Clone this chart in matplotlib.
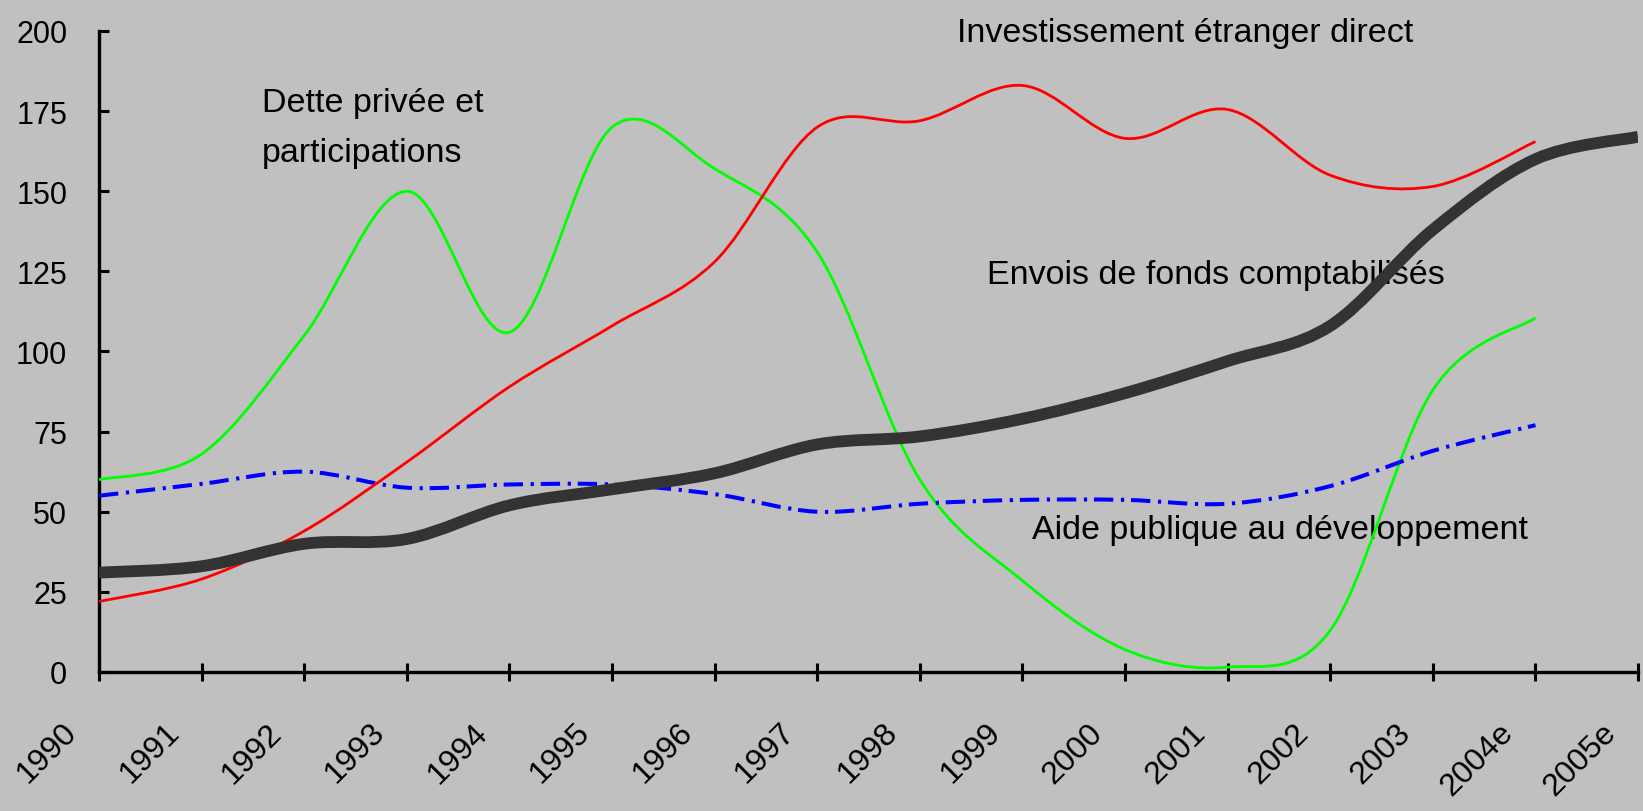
import numpy as np
import matplotlib
matplotlib.use("Agg")
import matplotlib.pyplot as plt
from matplotlib.path import Path
from matplotlib.patches import PathPatch
from matplotlib.transforms import ScaledTranslation

plt.rcParams['font.family'] = ['Liberation Sans', 'DejaVu Sans']

# Années (catégories)
annees = ['1990', '1991', '1992', '1993', '1994', '1995', '1996', '1997',
          '1998', '1999', '2000', '2001', '2002', '2003', '2004e', '2005e']

# Séries (milliards de dollars)
ide = [22, 29, 44, 65.5, 89, 108, 128, 170, 172, 183, 166.5, 175.5, 155, 151.5, 165.5]
dette = [60, 68, 105, 150, 106, 170, 157, 131, 60, 28.5, 7, 1.5, 13, 88, 110.5]
envois = [31, 33, 40, 41.5, 52, 57, 62, 71, 73.5, 79, 87, 97, 108, 138, 160, 167]
aide = [55, 58.7, 62.5, 57.5, 58.5, 58.5, 55.5, 50, 52.5, 53.7, 53.7, 52.5, 58, 69, 77]

BG = '#c0c0c0'


def courbe_lissee(valeurs):
    # lissage de type Excel : courbes de Bezier entre les points annuels
    pts = np.column_stack([np.arange(len(valeurs)), valeurs]).astype(float)
    n = len(pts)
    verts = [pts[0]]
    codes = [Path.MOVETO]
    for i in range(n - 1):
        p0 = pts[max(i - 1, 0)]
        p1 = pts[i]
        p2 = pts[i + 1]
        p3 = pts[min(i + 2, n - 1)]
        verts += [p1 + (p2 - p0) / 6, p2 - (p3 - p1) / 6, p2]
        codes += [Path.CURVE4] * 3
    return Path(verts, codes)


fig = plt.figure(figsize=(16.43, 8.12), dpi=100, facecolor=BG)
ax = fig.add_axes([0.0603, 0.1712, 0.9367, 0.7894], facecolor=BG)

ax.add_patch(PathPatch(courbe_lissee(dette), fill=False, edgecolor='#00ff00', lw=2.0, zorder=3))
ax.add_patch(PathPatch(courbe_lissee(ide), fill=False, edgecolor='#ff0000', lw=2.0, zorder=4))
ax.add_patch(PathPatch(courbe_lissee(aide), fill=False, edgecolor='#0000ff', lw=2.9,
                       linestyle=(0, (4.8, 1.9, 0.8, 1.7)), capstyle='butt', zorder=3))
ax.add_patch(PathPatch(courbe_lissee(envois), fill=False, edgecolor='#333333', lw=8.5,
                       capstyle='butt', zorder=5))

ax.set_xlim(0, 15)
ax.set_ylim(0, 200)

ax.set_yticks(np.arange(0, 201, 25))
ax.tick_params(axis='y', direction='in', length=7, width=2.2, pad=23, labelsize=22)
ax.set_xticks(np.arange(len(annees)))
ax.set_xticklabels(annees, rotation=45, ha='right', va='top', fontsize=23)
ax.tick_params(axis='x', direction='inout', length=13, width=2.2, pad=0)
decal = ScaledTranslation(-16 / 100, -36 / 100, fig.dpi_scale_trans)
for lab in ax.get_xticklabels():
    lab.set_transform(lab.get_transform() + decal)

for s in ['top', 'right']:
    ax.spines[s].set_visible(False)
for s in ['left', 'bottom']:
    ax.spines[s].set_linewidth(2.4)
    ax.spines[s].set_color('black')

fs = 24.5
ax.text(8.36, 196.9, 'Investissement étranger direct', fontsize=fs, ha='left', va='baseline', zorder=1)
ax.text(1.59, 175.1, 'Dette privée et', fontsize=fs, ha='left', va='baseline', zorder=1)
ax.text(1.59, 159.5, 'participations', fontsize=fs, ha='left', va='baseline', zorder=1)
ax.text(8.65, 121.4, 'Envois de fonds comptabilisés', fontsize=fs, ha='left', va='baseline', zorder=1)
ax.text(9.09, 41.8, 'Aide publique au développement', fontsize=fs, ha='left', va='baseline', zorder=1)

fig.savefig('out.png', dpi=100, facecolor=BG)
